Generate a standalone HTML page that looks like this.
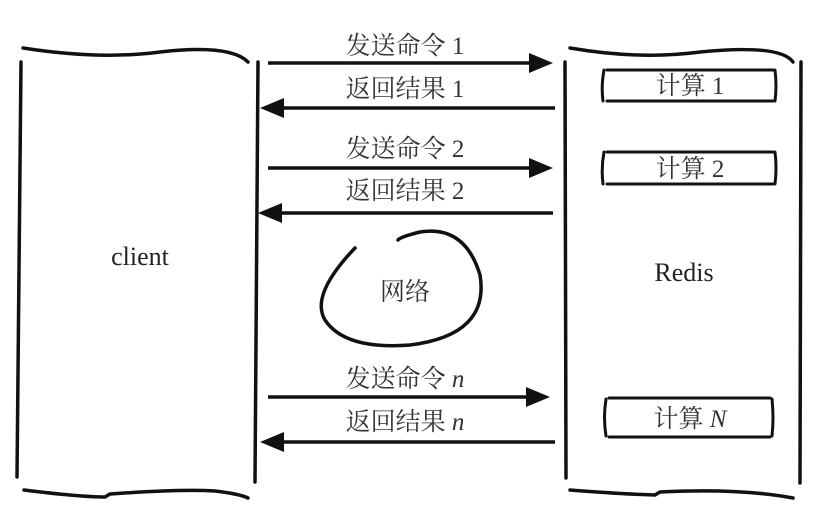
<!DOCTYPE html>
<html><head><meta charset="utf-8"><style>
html,body{margin:0;padding:0;background:#fff;}
svg{display:block;}
.cn{font-family:"Liberation Serif","Noto Serif CJK SC","Noto Sans CJK SC",serif;font-size:25px;fill:#333;}
.en{font-family:"Liberation Serif",serif;font-size:26px;fill:#222;}
</style></head><body>
<svg width="816" height="514" viewBox="0 0 816 514" xmlns="http://www.w3.org/2000/svg">
<defs>
<marker id="ah" markerWidth="10" markerHeight="10" refX="9" refY="5" orient="auto" markerUnits="userSpaceOnUse">
<path d="M0,0 L0,0 L10,5 L0,10 Z" fill="#111"/>
</marker>
</defs>
<g fill="none" stroke="#111" stroke-width="3.5" stroke-linecap="round">
<!-- top curves -->
<path d="M23,48 Q100,60 160,52 Q230,44 248,62"/>
<path d="M570,48 Q640,60 700,52 Q780,44 793,62"/>
<!-- bottom curves -->
<path d="M24,490 Q80,497 105,497 L110,494 Q180,489 215,491 Q240,494 248,498"/>
<path d="M570,490 Q620,494 655,495 L660,492 Q740,488 793,498"/>
<!-- verticals -->
<path d="M21,62 L17,477"/>
<path d="M258,62 L255,482"/>
<path d="M565,62 L566,478"/>
<path d="M801,62 L800,483"/>
<!-- cloud -->
<path d="M355,248 Q310,295 325,320 Q345,350 410,345 Q490,335 480,275 Q465,225 420,232 Q400,237 398,240"/>
</g>
<g stroke="#111" stroke-width="3.5" fill="none">
<line x1="268" y1="63" x2="533" y2="63"/>
<line x1="555" y1="108" x2="280" y2="108"/>
<line x1="268" y1="168" x2="533" y2="168"/>
<line x1="553" y1="213" x2="278" y2="213"/>
<line x1="268" y1="397" x2="530" y2="397"/>
<line x1="555" y1="442" x2="280" y2="442"/>
</g>
<g fill="#111">
<polygon points="553,63 529,53 529,73"/>
<polygon points="260,108 284,98 284,118"/>
<polygon points="553,168 529,158 529,178"/>
<polygon points="258,213 282,203 282,223"/>
<polygon points="550,397 526,387 526,407"/>
<polygon points="260,442 284,432 284,452"/>
</g>
<!-- boxes -->
<g fill="none" stroke="#111" stroke-width="3" stroke-linecap="round">
<path d="M607,70 L773,70 M607,101 L773,101 M604,70 Q601,86 603,101 M775,70 Q777,86 775,101"/>
<path d="M607,152 L773,152 M607,184 L773,184 M604,152 Q601,168 603,184 M775,152 Q777,168 775,184"/>
<path d="M609,398 L770,398 M609,437 L770,437 M606,399 Q603,418 606,436 M772,399 Q774,418 772,436"/>
</g>
<text class="cn" x="405" y="54" text-anchor="middle">发送命令 1</text>
<text class="cn" x="405" y="97" text-anchor="middle">返回结果 1</text>
<text class="cn" x="405" y="157" text-anchor="middle">发送命令 2</text>
<text class="cn" x="405" y="199" text-anchor="middle">返回结果 2</text>
<text class="cn" x="405" y="387" text-anchor="middle">发送命令 <tspan font-style="italic">n</tspan></text>
<text class="cn" x="405" y="430" text-anchor="middle">返回结果 <tspan font-style="italic">n</tspan></text>
<text class="cn" x="690" y="94" text-anchor="middle">计算 1</text>
<text class="cn" x="690" y="177" text-anchor="middle">计算 2</text>
<text class="cn" x="690" y="427" text-anchor="middle">计算 <tspan font-style="italic">N</tspan></text>
<text class="cn" x="405" y="300" text-anchor="middle">网络</text>
<text class="en" x="140" y="265" text-anchor="middle">client</text>
<text class="en" x="684" y="281" text-anchor="middle">Redis</text>
</svg>
</body></html>
